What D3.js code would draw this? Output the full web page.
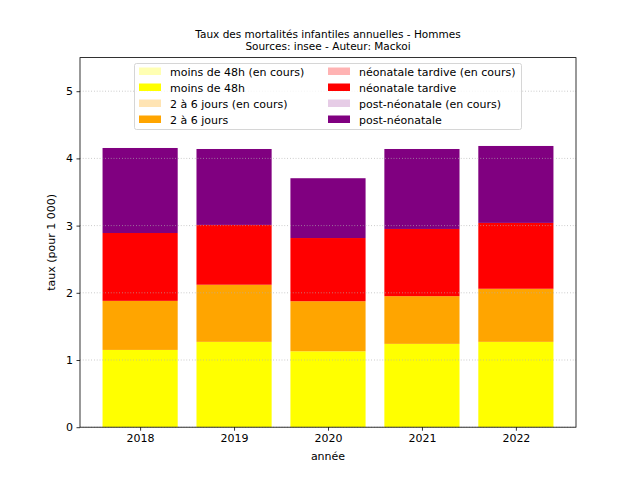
<!DOCTYPE html>
<html>
<head>
<meta charset="utf-8">
<script src="https://cdn.jsdelivr.net/npm/d3@7"></script>
<style>
  body { margin: 0; background: #fff; }
  text { font-family: "DejaVu Sans", sans-serif; fill: #000; }
</style>
</head>
<body>
<svg id="chart" width="640" height="480"></svg>
<script>
"use strict";

// valeurs (pour 1 000)
const years = ["2018", "2019", "2020", "2021", "2022"];
const moins48h = [1.15, 1.27, 1.13, 1.24, 1.27];
const deux6jours = [0.73, 0.85, 0.745, 0.71, 0.79];
const neoTardive = [1.01, 0.89, 0.94, 1.0, 0.98];
const postNeo = [1.265, 1.13, 0.89, 1.19, 1.145];
const enCours = [0, 0, 0, 0, 0];
const yTicks = [0, 1, 2, 3, 4, 5];

const series = [
    { name: "moins de 48h (en cours)", color: "#ffffb3", values: enCours },
    { name: "moins de 48h", color: "#ffff00", values: moins48h },
    { name: "2 à 6 jours (en cours)", color: "#ffe4b3", values: enCours },
    { name: "2 à 6 jours", color: "#ffa500", values: deux6jours },
    { name: "néonatale tardive (en cours)", color: "#ffb3b3", values: enCours },
    { name: "néonatale tardive", color: "#ff0000", values: neoTardive },
    { name: "post-néonatale (en cours)", color: "#e6cce6", values: enCours },
    { name: "post-néonatale", color: "#800080", values: postNeo }
];

const margin = { left: 80, right: 64, top: 57.6, bottom: 52.8 };
const width = 640, height = 480;
const svg = d3.select("#chart");

const x = d3.scaleLinear()
    .domain([-0.64, years.length - 1 + 0.64])
    .range([margin.left, width - margin.right]);
const y = d3.scaleLinear()
    .domain([0, 5.5])
    .range([height - margin.bottom, margin.top]);
const barW = x(0.8) - x(0);

// empilement
const table = years.map((yr, i) => {
    const row = { year: yr, idx: i };
    series.forEach(s => { row[s.name] = s.values[i]; });
    return row;
});
const stacked = d3.stack().keys(series.map(s => s.name))(table);

const bars = svg.append("g");
stacked.forEach((layer, k) => {
    bars.selectAll(null)
        .data(layer)
        .join("rect")
        .attr("x", d => x(d.data.idx) - barW / 2)
        .attr("width", barW)
        .attr("y", d => y(d[1]))
        .attr("height", d => y(d[0]) - y(d[1]))
        .attr("fill", series[k].color);
});

// grille pointillée au-dessus des barres
svg.append("g")
    .selectAll("line")
    .data(yTicks)
    .join("line")
    .attr("x1", margin.left).attr("x2", width - margin.right)
    .attr("y1", d => y(d)).attr("y2", d => y(d))
    .attr("stroke", "#b0b0b0")
    .attr("stroke-width", 0.8)
    .attr("stroke-dasharray", "0.8,2");

// axes
const xAxis = d3.axisBottom(x)
    .tickValues(d3.range(years.length))
    .tickFormat(i => years[i])
    .tickSize(3.5).tickPadding(3.5);
const yAxis = d3.axisLeft(y)
    .tickValues(yTicks)
    .tickFormat(d3.format("d"))
    .tickSize(3.5).tickPadding(3.5);

svg.append("g")
    .attr("transform", `translate(0,${height - margin.bottom})`)
    .call(xAxis)
    .call(g => g.select(".domain").remove());
svg.append("g")
    .attr("transform", `translate(${margin.left},0)`)
    .call(yAxis)
    .call(g => g.select(".domain").remove());
svg.selectAll(".tick text")
    .style("font-family", "DejaVu Sans")
    .style("font-size", "11px")
    .attr("fill", "#000");
svg.selectAll(".tick line").attr("stroke", "#000").attr("stroke-width", 0.8);

svg.append("rect")
    .attr("x", margin.left).attr("y", margin.top)
    .attr("width", width - margin.left - margin.right)
    .attr("height", height - margin.top - margin.bottom)
    .attr("fill", "none").attr("stroke", "#000").attr("stroke-width", 0.8);

// titres
const cx = (margin.left + width - margin.right) / 2;
svg.append("text").attr("x", cx).attr("y", 38)
    .attr("text-anchor", "middle").style("font-size", "10.5px")
    .text("Taux des mortalités infantiles annuelles - Hommes");
svg.append("text").attr("x", cx).attr("y", 49.5)
    .attr("text-anchor", "middle").style("font-size", "10.5px")
    .text("Sources: insee - Auteur: Mackoi");
svg.append("text").attr("x", cx).attr("y", 460)
    .attr("text-anchor", "middle").style("font-size", "11px")
    .text("année");
svg.append("text")
    .attr("transform", `translate(55,${(margin.top + height - margin.bottom) / 2}) rotate(-90)`)
    .attr("text-anchor", "middle").style("font-size", "11px")
    .text("taux (pour 1 000)");

// légende
const legend = svg.append("g");
legend.append("rect")
    .attr("x", 134.5).attr("y", 63.5).attr("width", 387).attr("height", 66)
    .attr("rx", 2).attr("fill", "#fff").attr("fill-opacity", 0.8)
    .attr("stroke", "#cccccc").attr("stroke-width", 0.8);
const items = legend.selectAll("g")
    .data(series)
    .join("g")
    .attr("transform", (d, i) => `translate(${i < 4 ? 139 : 328},${67.5 + (i % 4) * 16})`);
items.append("rect").attr("width", 22).attr("height", 7.5).attr("fill", d => d.color);
items.append("text").attr("x", 31).attr("y", 8)
    .style("font-size", "11px").text(d => d.name);
</script>
</body>
</html>
